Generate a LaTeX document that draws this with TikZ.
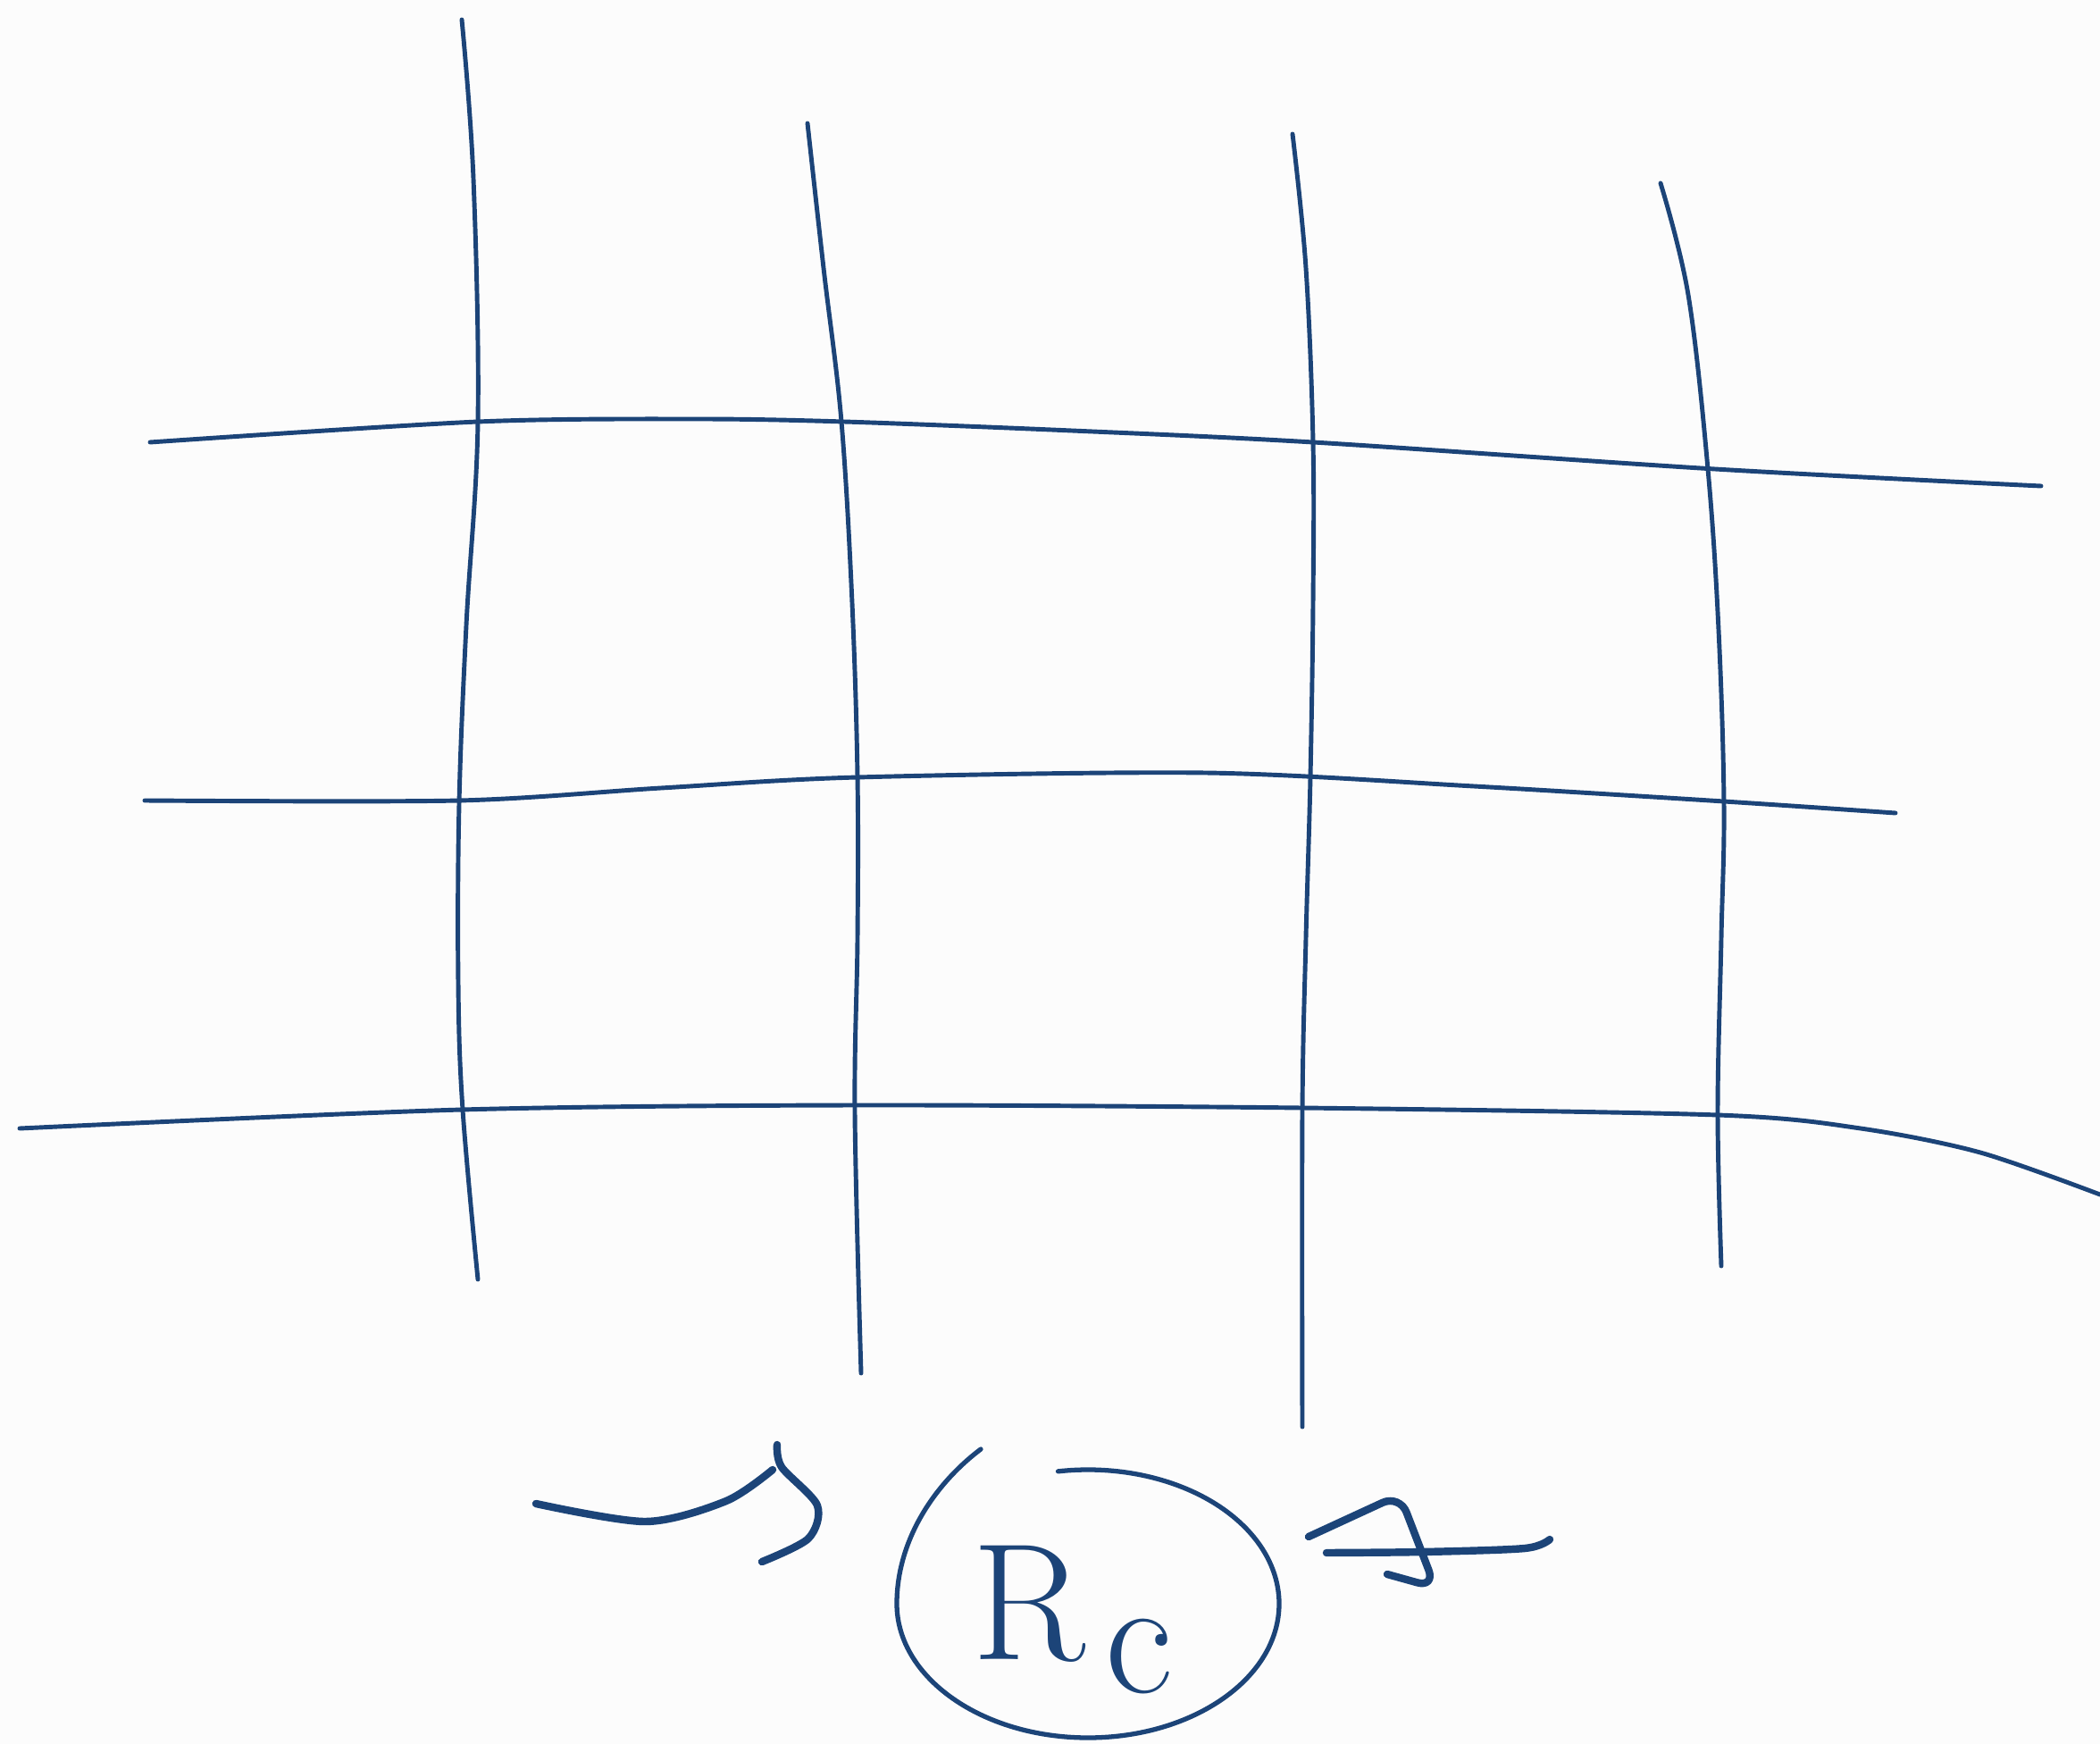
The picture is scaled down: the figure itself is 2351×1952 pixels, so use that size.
\documentclass[tikz,border=0pt]{standalone}
\usepackage{tikz}
\usetikzlibrary{arrows.meta, calc, positioning}
\definecolor{ink}{RGB}{28,68,120}
\definecolor{paper}{RGB}{252,252,252}

\begin{document}
\begin{tikzpicture}[x=0.01cm, y=-0.01cm,
    gridline/.style={ink, line width=1.4pt, line cap=round, line join=round},
    pen/.style={ink, line width=2.4pt, line cap=round, line join=round}]
    \fill[paper] (0,0) rectangle (2351,1952);
    \useasboundingbox (0,0) rectangle (2351,1952);
    % vertical lines
    \draw[gridline] plot[smooth, tension=0.6] coordinates {(517,22) (530,200) (535,472) (522,700) (514,900) (513,1100) (518,1242) (535,1432)};
    \draw[gridline] plot[smooth, tension=0.6] coordinates {(904,138) (922,300) (942,472) (954,675) (960,870) (960,1050) (957,1245) (964,1537)};
    \draw[gridline] plot[smooth, tension=0.6] coordinates {(1447,150) (1462,300) (1470,495) (1470,675) (1467,870) (1462,1050) (1458,1245) (1458,1597)};
    \draw[gridline] plot[smooth, tension=0.6] coordinates {(1859,205) (1890,330) (1912,525) (1924,705) (1930,900) (1927,1050) (1923,1245) (1927,1417)};
    % horizontal lines
    \draw[gridline] plot[smooth, tension=0.5] coordinates {(168,495) (535,472) (780,469) (945,472) (1200,482) (1470,495) (1920,525) (2285,544)};
    \draw[gridline] plot[smooth, tension=0.5] coordinates {(162,896) (514,896) (740,882) (960,870) (1350,865) (1650,880) (1930,897) (2122,910)};
    \draw[gridline] plot[smooth, tension=0.5] coordinates {(22,1263) (517,1242) (957,1237) (1458,1240) (1923,1248) (2083,1263) (2217,1290) (2351,1337)};
    % circled label
    \node[ink, font=\fontsize{53}{53}\selectfont, anchor=base west, inner sep=0pt] (rc) at (1088,1857) {R\hspace{0.12em}\raisebox{-0.2em}{c}};
    \draw[gridline, line width=1.5pt] (1098,1622) .. controls (1045,1662) and (1004,1725) .. (1004,1795)
        arc[start angle=180, end angle=-99, x radius=214, y radius=150];
    % arrows towards it
    \draw[pen] plot[smooth] coordinates {(600,1683) (723,1703) (813,1680) (865,1645)};
    \draw[pen] plot[smooth] coordinates {(870,1617) (875,1642) (915,1685) (905,1722) (853,1748)};
    \draw[pen] plot[smooth] coordinates {(1485,1738) (1593,1737) (1707,1733) (1735,1723)};
    \draw[pen, rounded corners=6pt] (1465,1720) -- (1567,1673) -- (1607,1777) -- (1553,1762);
\end{tikzpicture}
\end{document}
